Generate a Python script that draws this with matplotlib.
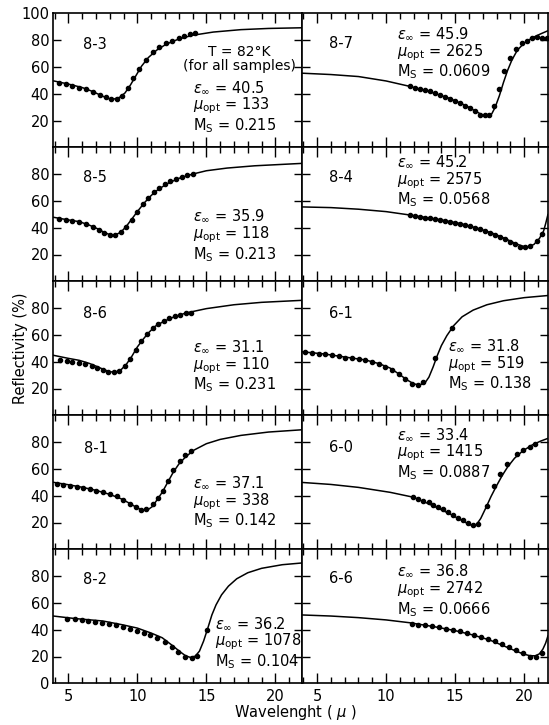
import matplotlib
matplotlib.use("Agg")
import matplotlib.pyplot as plt
from matplotlib.ticker import MultipleLocator

plt.rcParams['font.family'] = ['DejaVu Sans']
plt.rcParams['mathtext.fontset'] = 'dejavusans'

# ---- sample 8-3 ----
x_fit_83 = [3.91, 5.0, 6.0, 6.8, 7.4, 7.9, 8.3, 8.7, 9.1, 9.5, 9.9, 10.3, 10.8, 11.4, 12.1, 13.0, 14.0, 15.5, 17.5, 19.5, 21.93]
r_fit_83 = [49.6, 47.2, 44.6, 41.5, 38.5, 36.4, 36.0, 37.2, 40.5, 46.5, 53.5, 60.5, 67.0, 72.5, 77.0, 80.8, 83.6, 86.0, 87.8, 88.7, 89.2]
x_meas_83 = [4.3, 4.8, 5.3, 5.8, 6.3, 6.8, 7.3, 7.7, 8.1, 8.5, 8.9, 9.3, 9.7, 10.1, 10.6, 11.1, 11.6, 12.1, 12.5, 13.0, 13.4, 13.8, 14.2]
r_meas_83 = [48.2, 47.0, 45.8, 44.6, 43.3, 41.5, 39.3, 37.2, 35.8, 36.2, 38.5, 44.5, 51.5, 58.5, 65.5, 70.8, 74.5, 77.6, 79.7, 81.8, 83.3, 84.5, 85.3]

# ---- sample 8-5 ----
x_fit_85 = [3.91, 5.0, 5.8, 6.5, 7.1, 7.6, 8.0, 8.4, 8.8, 9.2, 9.6, 10.0, 10.5, 11.0, 11.5, 12.2, 13.0, 14.0, 15.0, 16.5, 18.5, 21.93]
r_fit_85 = [47.8, 45.8, 44.5, 42.0, 39.3, 36.5, 34.8, 34.6, 36.6, 41.0, 46.5, 52.0, 58.5, 64.0, 68.5, 73.0, 76.8, 80.0, 82.5, 84.5, 86.2, 88.0]
x_meas_85 = [4.3, 4.8, 5.3, 5.8, 6.3, 6.8, 7.2, 7.6, 8.0, 8.4, 8.8, 9.2, 9.6, 10.0, 10.4, 10.8, 11.2, 11.6, 12.0, 12.4, 12.8, 13.2, 13.6, 14.0]
r_meas_85 = [46.5, 45.5, 44.8, 44.2, 42.5, 40.3, 38.3, 36.3, 34.7, 34.7, 36.8, 40.8, 46.0, 51.5, 57.5, 62.5, 66.5, 69.5, 72.3, 74.5, 76.3, 77.8, 79.0, 79.8]

# ---- sample 8-6 ----
x_fit_86 = [3.91, 5.0, 5.8, 6.5, 7.1, 7.6, 8.0, 8.4, 8.8, 9.2, 9.6, 10.0, 10.4, 10.8, 11.3, 11.9, 12.6, 13.5, 15.0, 17.0, 19.0, 21.93]
r_fit_86 = [44.8, 42.5, 41.0, 38.8, 36.3, 34.0, 32.5, 32.2, 33.8, 38.0, 44.0, 51.0, 56.5, 61.5, 66.5, 70.0, 73.2, 76.3, 79.6, 82.5, 84.3, 85.8]
x_meas_86 = [4.4, 4.9, 5.3, 5.8, 6.2, 6.7, 7.1, 7.5, 7.9, 8.3, 8.7, 9.1, 9.5, 9.9, 10.3, 10.7, 11.1, 11.5, 11.9, 12.3, 12.7, 13.1, 13.5, 13.9]
r_meas_86 = [41.5, 40.5, 40.0, 39.3, 38.3, 37.0, 35.5, 34.0, 32.5, 32.3, 33.3, 36.5, 42.0, 49.0, 55.5, 61.0, 65.0, 68.0, 70.5, 72.3, 73.8, 75.0, 76.0, 76.7]

# ---- sample 8-1 ----
x_fit_81 = [3.91, 5.0, 6.0, 7.0, 8.0, 8.8, 9.5, 10.0, 10.4, 10.75, 11.1, 11.4, 11.8, 12.2, 12.6, 13.0, 13.5, 14.1, 15.0, 16.0, 17.5, 19.5, 21.93]
r_fit_81 = [50.0, 48.2, 46.3, 44.0, 41.0, 37.8, 34.0, 30.8, 29.2, 29.4, 32.0, 36.5, 42.5, 50.0, 57.5, 63.5, 69.0, 74.0, 78.8, 82.0, 85.0, 87.5, 89.2]
x_meas_81 = [4.15, 4.63, 5.11, 5.6, 6.08, 6.56, 7.04, 7.52, 8.01, 8.49, 8.97, 9.45, 9.93, 10.3, 10.66, 11.14, 11.5, 11.86, 12.22, 12.59, 13.07, 13.48, 13.91]
r_meas_81 = [49.1, 48.1, 47.2, 46.4, 45.7, 44.7, 43.7, 42.5, 41.3, 39.6, 36.9, 33.9, 31.5, 29.5, 29.8, 33.9, 38.3, 43.7, 51.1, 58.9, 65.8, 70.0, 73.6]

# ---- sample 8-2 ----
x_fit_82 = [3.91, 5.5, 7.5, 9.0, 10.0, 11.0, 11.8, 12.5, 13.1, 13.5, 13.85, 14.2, 14.5, 14.8, 15.1, 15.4, 15.7, 16.1, 16.6, 17.2, 18.0, 19.0, 20.5, 21.93]
r_fit_82 = [50.2, 48.3, 46.5, 43.5, 41.2, 37.5, 34.0, 28.5, 23.5, 20.5, 19.3, 20.3, 24.0, 31.5, 41.0, 51.0, 58.5, 66.0, 72.5, 78.0, 82.5, 85.8, 88.5, 89.8]
x_meas_82 = [4.92, 5.45, 5.96, 6.46, 6.91, 7.42, 7.97, 8.45, 8.95, 9.48, 9.96, 10.47, 10.92, 11.42, 12.0, 12.48, 12.93, 13.44, 13.94, 14.32, 15.08]
r_meas_82 = [48.2, 47.7, 47.0, 46.2, 45.7, 45.0, 44.2, 43.2, 41.7, 40.5, 39.2, 37.5, 35.7, 33.7, 30.7, 27.0, 23.7, 20.0, 19.2, 20.2, 40.0]

# ---- sample 8-7 ----
x_fit_87 = [3.91, 6.0, 8.0, 10.0, 11.7, 13.2, 14.6, 15.8, 16.5, 17.0, 17.35, 17.65, 17.9, 18.2, 18.5, 18.8, 19.1, 19.5, 20.0, 20.6, 21.2, 21.72]
r_fit_87 = [55.3, 54.3, 52.8, 49.5, 45.5, 41.3, 36.5, 31.0, 26.8, 24.0, 23.3, 25.0, 30.0, 38.5, 48.5, 57.5, 65.0, 72.5, 77.8, 81.8, 84.7, 87.0]
x_meas_87 = [11.74, 12.1, 12.46, 12.83, 13.19, 13.55, 13.91, 14.27, 14.63, 14.99, 15.36, 15.72, 16.08, 16.44, 16.8, 17.16, 17.48, 17.81, 18.2, 18.56, 18.97, 19.4, 19.81, 20.17, 20.54, 20.9, 21.26, 21.62]
r_meas_87 = [45.4, 44.2, 43.5, 42.7, 41.7, 40.2, 38.8, 37.5, 36.3, 34.8, 33.1, 31.1, 29.4, 26.9, 24.4, 24.0, 24.4, 30.6, 43.7, 57.0, 66.4, 73.1, 77.5, 79.3, 81.2, 82.5, 81.7, 81.7]

# ---- sample 8-4 ----
x_fit_84 = [3.91, 6.0, 8.0, 10.0, 11.7, 13.9, 15.5, 16.8, 17.8, 18.7, 19.4, 19.9, 20.3, 20.7, 21.1, 21.4, 21.55, 21.72]
r_fit_84 = [55.5, 55.0, 53.8, 52.0, 49.5, 46.0, 42.8, 39.0, 35.5, 31.5, 28.0, 26.2, 25.8, 27.5, 32.0, 37.5, 43.0, 50.0]
x_meas_84 = [11.74, 12.1, 12.46, 12.83, 13.19, 13.55, 13.91, 14.27, 14.63, 14.99, 15.36, 15.72, 16.08, 16.44, 16.8, 17.16, 17.52, 17.89, 18.25, 18.61, 18.97, 19.33, 19.69, 20.05, 20.42, 20.9, 21.26]
r_meas_84 = [49.5, 48.75, 48.0, 47.5, 47.0, 46.5, 45.75, 45.25, 44.5, 43.75, 43.0, 42.0, 41.0, 40.0, 38.75, 37.5, 36.0, 34.5, 33.0, 31.25, 29.25, 27.5, 25.75, 25.5, 26.25, 30.0, 35.0]

# ---- sample 6-1 ----
x_fit_61 = [3.91, 5.5, 7.0, 8.5, 9.5, 10.3, 10.9, 11.5, 12.0, 12.4, 12.8, 13.1, 13.4, 13.7, 14.0, 14.4, 14.9, 15.5, 16.3, 17.3, 18.5, 20.0, 21.72]
r_fit_61 = [47.4, 45.8, 43.5, 41.3, 38.5, 35.2, 31.0, 26.5, 23.5, 22.6, 24.0, 28.5, 36.0, 44.5, 52.0, 59.5, 67.0, 73.5, 78.5, 82.5, 85.5, 87.8, 89.4]
x_meas_61 = [4.15, 4.63, 5.11, 5.6, 6.08, 6.56, 7.04, 7.52, 8.01, 8.49, 8.97, 9.45, 9.93, 10.42, 10.9, 11.38, 11.86, 12.34, 12.7, 13.55, 14.75]
r_meas_61 = [47.4, 46.7, 45.9, 45.4, 44.7, 44.0, 43.0, 42.5, 42.0, 41.2, 40.0, 38.0, 36.3, 33.8, 30.6, 27.2, 23.7, 22.7, 25.2, 43.0, 65.2]

# ---- sample 6-0 ----
x_fit_60 = [3.91, 6.0, 8.0, 10.3, 12.0, 13.4, 14.6, 15.4, 15.9, 16.25, 16.55, 16.85, 17.2, 17.6, 18.0, 18.4, 18.8, 19.3, 19.9, 20.6, 21.2, 21.72]
r_fit_60 = [49.9, 48.4, 46.2, 42.5, 38.8, 32.5, 26.5, 22.0, 19.2, 17.6, 18.6, 23.0, 30.5, 39.5, 47.5, 55.0, 61.5, 68.0, 73.5, 78.0, 80.8, 82.8]
x_meas_60 = [11.98, 12.34, 12.7, 13.07, 13.43, 13.79, 14.15, 14.51, 14.87, 15.24, 15.6, 15.96, 16.27, 16.68, 17.28, 17.81, 18.24, 18.73, 19.45, 19.93, 20.42, 20.78]
r_meas_60 = [38.8, 37.5, 36.3, 35.1, 33.3, 31.9, 29.9, 28.1, 25.7, 23.5, 21.5, 19.5, 17.8, 19.0, 32.6, 47.4, 56.0, 63.5, 70.9, 73.8, 76.5, 78.3]

# ---- sample 6-6 ----
x_fit_66 = [3.91, 6.0, 8.0, 10.0, 11.7, 13.5, 15.0, 16.3, 17.5, 18.5, 19.3, 19.9, 20.4, 20.8, 21.1, 21.35, 21.55, 21.72]
r_fit_66 = [51.0, 50.2, 49.0, 47.3, 45.2, 42.2, 39.3, 36.0, 32.3, 28.0, 24.5, 22.0, 20.6, 20.5, 22.0, 25.5, 30.0, 35.5]
x_meas_66 = [11.84, 12.34, 12.85, 13.35, 13.86, 14.37, 14.87, 15.38, 15.89, 16.39, 16.9, 17.41, 17.91, 18.42, 18.92, 19.43, 19.94, 20.44, 20.82, 21.28]
r_meas_66 = [44.5, 43.75, 43.25, 42.5, 41.75, 40.75, 39.75, 38.75, 37.5, 36.25, 34.75, 33.25, 31.25, 29.25, 27.0, 24.5, 22.25, 20.0, 19.75, 22.5]

# fitted parameters: (eps_inf, mu_opt, Ms)
params_83 = ("40.5", "133", "0.215")
params_85 = ("35.9", "118", "0.213")
params_86 = ("31.1", "110", "0.231")
params_81 = ("37.1", "338", "0.142")
params_82 = ("36.2", "1078", "0.104")
params_87 = ("45.9", "2625", "0.0609")
params_84 = ("45.2", "2575", "0.0568")
params_61 = ("31.8", "519", "0.138")
params_60 = ("33.4", "1415", "0.0887")
params_66 = ("36.8", "2742", "0.0666")

# (row, col, name, fit x, fit R, meas x, meas R, params, sample-label pos, param block pos)
panels = [
    (0, 0, "8-3", x_fit_83, r_fit_83, x_meas_83, r_meas_83, params_83, (6.05, 76.5), (14.0, 30)),
    (1, 0, "8-5", x_fit_85, r_fit_85, x_meas_85, r_meas_85, params_85, (6.05, 77.5), (14.0, 34)),
    (2, 0, "8-6", x_fit_86, r_fit_86, x_meas_86, r_meas_86, params_86, (6.05, 76), (14.0, 36.5)),
    (3, 0, "8-1", x_fit_81, r_fit_81, x_meas_81, r_meas_81, params_81, (6.15, 75.5), (14.0, 35)),
    (4, 0, "8-2", x_fit_82, r_fit_82, x_meas_82, r_meas_82, params_82, (6.05, 77.5), (15.6, 30)),
    (0, 1, "8-7", x_fit_87, r_fit_87, x_meas_87, r_meas_87, params_87, (5.85, 77.5), (10.8, 70)),
    (1, 1, "8-4", x_fit_84, r_fit_84, x_meas_84, r_meas_84, params_84, (5.9, 77.5), (10.8, 74.5)),
    (2, 1, "6-1", x_fit_61, r_fit_61, x_meas_61, r_meas_61, params_61, (5.9, 76), (14.45, 37.3)),
    (3, 1, "6-0", x_fit_60, r_fit_60, x_meas_60, r_meas_60, params_60, (5.9, 76.3), (10.8, 71)),
    (4, 1, "6-6", x_fit_66, r_fit_66, x_meas_66, r_meas_66, params_66, (5.9, 78), (10.8, 69)),
]

W, H = 549, 725
fig = plt.figure(figsize=(W / 100, H / 100), dpi=100)

col_left = [53.3, 302.0]
col_right = [302.0, 548.0]
x_limits = [(3.91, 21.93), (3.91, 21.72)]
top_px, row_h = 13.3, 134.0
FS = 10.5

for (row, col, name, xf, rf, xm, rm, par, lab_pos, blk_pos) in panels:
    y_top = top_px + row * row_h
    rect = [col_left[col] / W, 1 - (y_top + row_h) / H,
            (col_right[col] - col_left[col]) / W, row_h / H]
    ax = fig.add_axes(rect)
    ax.set_xlim(*x_limits[col])
    ax.set_ylim(0, 100)

    ax.plot(xf, rf, color="black", lw=1.1, solid_capstyle="round", zorder=2)
    ax.plot(xm, rm, linestyle="none", marker="o", ms=3.0, color="black", zorder=3)

    for sp in ax.spines.values():
        sp.set_linewidth(1.2)

    ax.xaxis.set_major_locator(MultipleLocator(5))
    ax.xaxis.set_minor_locator(MultipleLocator(1))
    ax.tick_params(axis="x", which="both", direction="in", top=True, bottom=True,
                   width=1.0, labelsize=FS, pad=4,
                   labelbottom=(row == 4))
    ax.tick_params(axis="x", which="major", length=7)
    ax.tick_params(axis="x", which="minor", length=4)

    yt = [20, 40, 60, 80]
    if col == 0 and row == 0:
        yt = yt + [100]
    if col == 0 and row == 4:
        yt = [0] + yt
    ax.set_yticks(yt)
    ax.set_yticklabels([str(v) for v in yt])
    ax.tick_params(axis="y", which="major", direction="in", left=True, right=True,
                   length=5.5, width=1.0, labelsize=FS, pad=3,
                   labelleft=(col == 0))
    for t, v in zip(ax.yaxis.get_major_ticks(), yt):
        if v in (0, 100):
            t.tick1line.set_visible(False)
            t.tick2line.set_visible(False)

    ax.text(lab_pos[0], lab_pos[1], name, fontsize=FS, ha="left", va="center")
    eps, mu, ms = par
    block = ("$\\epsilon_\\infty$ = " + eps + "\n"
             + "$\\mu_{\\mathrm{opt}}$ = " + mu + "\n"
             + "M$_{\\mathrm{S}}$ = " + ms)
    ax.text(blk_pos[0], blk_pos[1], block, fontsize=FS, ha="left", va="center",
            multialignment="left", linespacing=1.0)

    if row == 0 and col == 0:
        ax.text(13.3, 65.6, "T = 82°K\n(for all samples)", fontsize=10,
                ha="left", va="center", multialignment="center", linespacing=1.0)

fig.text(20 / W, 1 - 348 / H, "Reflectivity (%)", rotation=90, fontsize=FS,
         ha="center", va="center")
fig.text(296 / W, 1 - 712 / H, r"Wavelenght ( $\mu$ )", fontsize=FS,
         ha="center", va="center")

fig.savefig("out.png", dpi=100)
